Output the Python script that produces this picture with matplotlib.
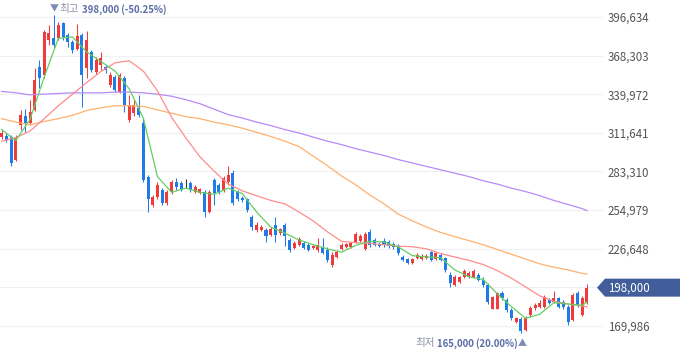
import numpy as np
import matplotlib
matplotlib.use('Agg')
import matplotlib.pyplot as plt
from matplotlib.patches import Polygon
from matplotlib.transforms import IdentityTransform

plt.rcParams['font.family'] = ['Noto Sans CJK KR', 'DejaVu Sans']

# ---------------- data (daily candles, KRW) ----------------
opens = [308500, 309500, 308500, 291500, 317500, 324000, 319000, 328500, 360000, 354000,
         380000, 381000, 381000, 392000, 383500, 378500, 373000, 383500, 359000, 371000,
         356500, 361500, 360000, 346500, 352500, 341500, 352000, 321000, 326000, 330000,
         319000, 279000, 258500, 264500, 269500, 260000, 268000, 275500, 275000, 274000,
         275000, 268000, 267500, 268000, 253500, 277000, 273500, 269500, 275500, 282000,
         268000, 264000, 263000, 250000, 240500, 240500, 240500, 236500, 244000, 238000,
         244000, 233000, 227000, 229500, 231000, 229500, 227000, 225500, 228000, 225500,
         214500, 220500, 226500, 228000, 228000, 231500, 232500, 226500, 239000, 233000,
         230000, 232500, 231500, 230000, 228500, 220500, 219000, 216000, 220000, 219000,
         220000, 224000, 219000, 222000, 220000, 207500, 200000, 202000, 206000, 206000,
         206000, 207500, 203500, 200000, 182500, 182500, 194000, 189000, 181500, 173000,
         175000, 167000, 178000, 183000, 184000, 184000, 189000, 187500, 190500, 187500,
         184000, 174000, 194000, 178000, 186500]
highs = [313500, 311500, 310000, 310000, 328500, 329000, 335500, 359000, 365000, 387000,
         391000, 398000, 393000, 393000, 385000, 380000, 391500, 385000, 386500, 372500,
         367500, 371000, 361500, 356500, 354000, 355500, 353500, 339500, 335500, 339500,
         322500, 280500, 266000, 275500, 271000, 269500, 277000, 278500, 276500, 277500,
         276500, 273500, 271000, 269500, 269500, 278500, 275000, 280000, 287500, 284500,
         269500, 265500, 264000, 251500, 246000, 244000, 242000, 242500, 250000, 242000,
         245500, 234500, 232000, 235000, 232000, 231000, 229500, 234500, 234500, 228000,
         224000, 225500, 231000, 231000, 231500, 239000, 237500, 239000, 241000, 234500,
         231500, 234500, 233000, 231500, 230000, 222000, 220000, 220000, 223500, 222500,
         222500, 225000, 224000, 223500, 220500, 209500, 207500, 206500, 211500, 210000,
         211500, 209000, 206000, 201500, 192000, 195000, 195500, 190500, 183000, 176500,
         176500, 177000, 184500, 186500, 189000, 192500, 190500, 195500, 191500, 189000,
         185500, 194000, 195500, 192000, 200500]
lows = [307000, 305000, 287500, 291000, 313500, 312000, 317500, 327500, 344500, 352000,
        376000, 374000, 380000, 380000, 374500, 370000, 372500, 330500, 352000, 356500,
        355000, 357500, 355500, 345000, 341500, 341000, 327000, 319500, 324000, 323000,
        275500, 253500, 257000, 263000, 258500, 258500, 266500, 269500, 269000, 271000,
        268000, 267500, 266500, 250000, 253000, 258500, 266500, 268000, 273500, 258500,
        261500, 261000, 253500, 240500, 239000, 239500, 231500, 236000, 231500, 237000,
        228500, 224000, 226500, 228500, 226500, 225000, 226500, 224000, 222500, 217000,
        213000, 220000, 225500, 227000, 227000, 231000, 231500, 225500, 228000, 228500,
        228000, 228000, 227000, 226500, 222000, 217500, 215500, 215500, 219000, 218500,
        219000, 217500, 218500, 217500, 209500, 198500, 199000, 201500, 205000, 205000,
        205000, 203000, 198500, 186000, 182000, 182000, 189000, 180000, 174000, 172000,
        165000, 166000, 176500, 181500, 183000, 183000, 186000, 186500, 183000, 182000,
        170500, 173500, 184000, 177000, 186000]
closes = [311500, 306500, 289500, 308000, 324500, 319000, 327000, 350500, 352000, 385500,
          385000, 376000, 391000, 382000, 378500, 372500, 382500, 354000, 380000, 357500,
          365000, 366500, 357500, 354000, 343000, 354000, 332000, 332000, 332000, 324500,
          277000, 263000, 264500, 273500, 260000, 268000, 275500, 272000, 270500, 274000,
          269500, 272000, 270500, 253500, 268000, 267500, 268000, 278500, 280500, 260000,
          263000, 262000, 255000, 242500, 244000, 242500, 236000, 241000, 237000, 241000,
          236000, 225500, 231000, 233500, 227000, 225500, 228500, 229500, 223500, 218500,
          222000, 224000, 229500, 230000, 231000, 237500, 236000, 237500, 229500, 229500,
          228500, 229500, 228500, 228000, 223500, 218500, 216000, 219000, 222000, 221000,
          221000, 218500, 223500, 218500, 211000, 201500, 206000, 206000, 210000, 209000,
          210000, 203500, 200000, 187500, 191000, 194000, 190500, 181500, 175500, 175500,
          166000, 175500, 183000, 185500, 186500, 191000, 186500, 190500, 184000, 184000,
          173000, 192500, 185500, 190500, 198000]

# moving averages every 3 sessions (+ last session)
ma_days = list(range(0, 124, 3)) + [124]
ma5 = [314000, 306000, 321500, 352500, 381000, 382000, 371000, 364000, 357000, 344000,
       322500, 279500, 268000, 271000, 268000, 266500, 271000, 267000, 253500, 242500,
       238000, 233000, 229500, 226500, 224000, 229000, 232000, 231500, 228000, 221500,
       220500, 220000, 211000, 206000, 204000, 193500, 184000, 175500, 178500, 187000,
       186000, 185000, 187500]
ma20 = [305500, 308000, 313000, 322000, 331500, 340000, 348500, 356500, 363000, 364500,
        357000, 342500, 323000, 308000, 294000, 283500, 274000, 269000, 265500, 262000,
        259500, 253500, 247000, 239000, 232000, 231000, 230500, 229500, 228500, 228000,
        226500, 223000, 220500, 218000, 215000, 210500, 205000, 198500, 192000, 188000,
        186000, 184500, 184000]
ma60 = [322000, 319500, 317500, 320000, 322000, 324500, 328000, 330000, 331500, 331500,
        331000, 328500, 326000, 323500, 322000, 319500, 317500, 315000, 312000, 309000,
        305500, 301500, 294500, 287500, 280000, 273500, 266000, 259500, 252000, 247000,
        242500, 238500, 235500, 232500, 229500, 226000, 222500, 219000, 215500, 213000,
        211000, 208500, 208000]
ma120 = [342000, 341000, 339500, 340000, 340500, 341000, 341000, 341000, 341500, 341500,
         341000, 340000, 338500, 336000, 333000, 329000, 325000, 322500, 319500, 317000,
         314000, 311500, 308500, 305500, 303000, 300000, 297500, 295000, 292000, 289500,
         287000, 284500, 282000, 279500, 276500, 274000, 271000, 268500, 265500, 262000,
         259000, 256000, 254500]

y_ticks = [169986, 198317, 226648, 254979, 283310, 311641, 339972, 368303, 396634]
y_tick_labels = ['169,986', '', '226,648', '254,979', '283,310', '311,641',
                 '339,972', '368,303', '396,634']

high_word, low_word = '최고', '최저'
high_text = '398,000 (-50.25%)'
low_text = '165,000 (20.00%)'
last_text = '198,000'

# ---------------- styles ----------------
UP = '#ef3b3b'
DOWN = '#1f7be8'
FLAT = '#333333'
C_MA5, C_MA20, C_MA60, C_MA120 = '#63cf63', '#ff8c8c', '#ffb06e', '#b78af6'

W, H, DPI = 680, 358, 100
fig = plt.figure(figsize=(W / DPI, H / DPI), dpi=DPI)
fig.patch.set_facecolor('white')
ax = fig.add_axes([0, 0, 603 / W, 1])
ax.set_facecolor('white')
ax.set_xlim(-0.36, 127.4)
ax.set_ylim(146374, 409110)

o = np.array(opens, float)
h = np.array(highs, float)
l = np.array(lows, float)
c = np.array(closes, float)
x = np.arange(len(o))
cols = [UP if cc > oo else (DOWN if cc < oo else FLAT) for oo, cc in zip(o, c)]

ax.vlines(x, l, h, colors=cols, linewidth=0.75, zorder=2)
bottoms = np.minimum(o, c)
heights = np.maximum(np.abs(c - o), 450)
ax.bar(x, heights, bottom=bottoms - np.where(np.abs(c - o) < 450, 225, 0),
       width=0.64, color=cols, linewidth=0, zorder=2.5)

for vals, col in ((ma120, C_MA120), (ma60, C_MA60), (ma20, C_MA20), (ma5, C_MA5)):
    ax.plot(ma_days, vals, color=col, linewidth=0.9, zorder=3, solid_joinstyle='round')

ax.set_yticks(y_ticks)
ax.set_yticklabels(y_tick_labels)
ax.yaxis.tick_right()
ax.tick_params(axis='y', length=0, pad=3.6, labelsize=8.3, labelcolor='#555555')
ax.set_xticks([])
ax.yaxis.grid(True, color='#eef0f5', linewidth=0.8)
ax.set_axisbelow(True)
for s in ax.spines.values():
    s.set_visible(False)

# high / low markers
ih = int(np.argmax(h)); il = int(np.argmin(l))
mark_col, word_col, num_col = '#7b8bb8', '#8d93a6', '#5a6ea6'
NUM_FS, WORD_FS = 6.9, 7.6
ax.annotate('▼', xy=(ih, h[ih]), xytext=(1, 6), textcoords='offset pixels',
            ha='center', va='center', fontsize=6.5, color=mark_col, annotation_clip=False)
ax.annotate(high_word, xy=(ih, h[ih]), xytext=(5.5, 6), textcoords='offset pixels',
            ha='left', va='center', fontsize=WORD_FS, color=word_col, annotation_clip=False)
ax.annotate(high_text, xy=(ih, h[ih]), xytext=(28, 6), textcoords='offset pixels',
            ha='left', va='center', fontsize=NUM_FS, color=num_col, fontweight='bold',
            annotation_clip=False)
ax.annotate('▲', xy=(il, l[il]), xytext=(1.5, -10.5), textcoords='offset pixels',
            ha='center', va='center', fontsize=6.5, color=mark_col, annotation_clip=False)
low_num = ax.annotate(low_text, xy=(il, l[il]), xytext=(-3, -10.5), textcoords='offset pixels',
                      ha='right', va='center', fontsize=NUM_FS, color=num_col,
                      fontweight='bold', annotation_clip=False)
fig.canvas.draw()
bb = low_num.get_window_extent(fig.canvas.get_renderer())
xl = ax.transData.transform((il, l[il]))[0]
ax.annotate(low_word, xy=(il, l[il]), xytext=(bb.x0 - xl - 2.5, -10.5),
            textcoords='offset pixels', ha='right', va='center', fontsize=WORD_FS,
            color=word_col, annotation_clip=False)

# last price tag
yd = ax.transData.transform((0, c[-1]))[1]
tag = Polygon([(597, yd), (605, yd + 9), (W, yd + 9), (W, yd - 9), (605, yd - 9)],
              closed=True, transform=IdentityTransform(), facecolor='#415e9b',
              edgecolor='none', zorder=5)
fig.add_artist(tag)
fig.text(608.5, yd, last_text, transform=IdentityTransform(), ha='left', va='center',
         fontsize=8.3, color='white', zorder=6)

fig.savefig('out.png', dpi=DPI)
